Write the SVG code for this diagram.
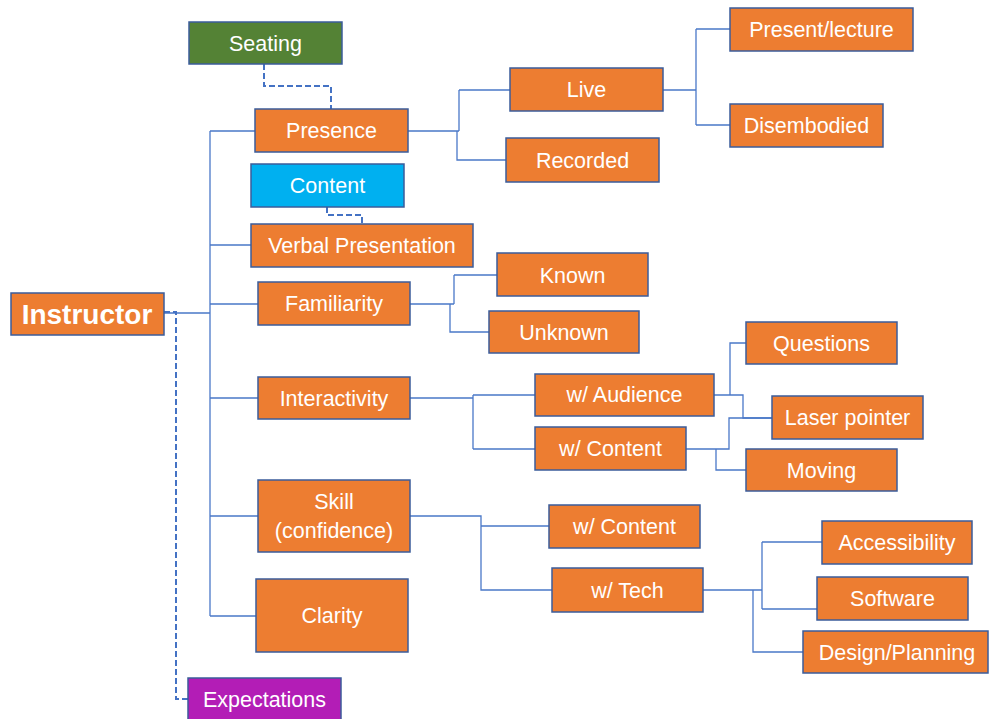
<svg xmlns="http://www.w3.org/2000/svg" width="989" height="719" viewBox="0 0 989 719">
  <style>
    .box { stroke: #3B5C9A; stroke-width: 1.5; }
    .orange { fill: #ED7D31; }
    .green { fill: #548235; }
    .cyan { fill: #00B0F0; }
    .purple { fill: #B31DB6; }
    text { font-family: "Liberation Sans", Arial, sans-serif; font-size: 21.5px; fill: #FFFFFF; text-anchor: middle; }
    .title { font-size: 28px; font-weight: bold; }
    .link { fill: none; stroke: #4A78C8; stroke-width: 1.3; }
    .assoc { fill: none; stroke: #4472C4; stroke-width: 2; stroke-dasharray: 6 3; }
  </style>
  <rect width="989" height="719" fill="#FFFFFF"/>

  <!-- tree connectors -->
  <g id="connectors">
    <path class="link" d="M164,313 H210 M210,131 V616 M210,131 H255 M210,245 H251 M210,304 H258 M210,398 H258 M210,516 H258 M210,616 H256"/>
    <path class="link" d="M408,131 H459 M459,90 V131 M459,90 H510 M457,131 V160 H506"/>
    <path class="link" d="M663,90 H696 M696,29 V125 M696,29 H730 M696,125 H730"/>
    <path class="link" d="M410,304 H454 M454,275 V304 M454,275 H497 M450,304 V332 H489"/>
    <path class="link" d="M410,398 H473 M473,395 V449 M473,395 H535 M473,449 H535"/>
    <path class="link" d="M714,395 H730 V343 H746 M730,395 H743 V418 H772"/>
    <path class="link" d="M686,449 H729 V418 H772 M716,449 V470 H746"/>
    <path class="link" d="M410,516 H481 V526 H549 M481,516 V590 H552"/>
    <path class="link" d="M703,590 H762 M762,542 V609 M762,542 H822 M762,609 H817 M753,590 V652 H803"/>
    <!-- dashed associations -->
    <path class="assoc" d="M264,64 V86 H331 V109"/>
    <path class="assoc" d="M327,207 V215 H362 V224"/>
    <path class="assoc" d="M164,312 H176 V699 H188"/>
  </g>

  <g id="instructor"><rect class="box orange" x="11" y="293" width="153" height="42"/><text class="title" x="87" y="324">Instructor</text></g>
  <g id="seating"><rect class="box green" x="189" y="22" width="153" height="42"/><text x="265.5" y="50.5">Seating</text></g>
  <g id="presence"><rect class="box orange" x="255" y="109" width="153" height="43"/><text x="331.5" y="138">Presence</text></g>
  <g id="content"><rect class="box cyan" x="251" y="164" width="153" height="43"/><text x="327.5" y="193">Content</text></g>
  <g id="verbal-presentation"><rect class="box orange" x="251" y="224" width="222" height="43"/><text x="362" y="253">Verbal Presentation</text></g>
  <g id="live"><rect class="box orange" x="510" y="68" width="153" height="43"/><text x="586.5" y="97">Live</text></g>
  <g id="recorded"><rect class="box orange" x="506" y="138" width="153" height="44"/><text x="582.5" y="167.5">Recorded</text></g>
  <g id="present-lecture"><rect class="box orange" x="730" y="8" width="183" height="43"/><text x="821.5" y="37">Present/lecture</text></g>
  <g id="disembodied"><rect class="box orange" x="730" y="104" width="153" height="43"/><text x="806.5" y="133">Disembodied</text></g>
  <g id="familiarity"><rect class="box orange" x="258" y="282" width="152" height="43"/><text x="334" y="311">Familiarity</text></g>
  <g id="known"><rect class="box orange" x="497" y="253" width="151" height="43"/><text x="572.5" y="282.5">Known</text></g>
  <g id="unknown"><rect class="box orange" x="489" y="311" width="150" height="42"/><text x="564" y="339.5">Unknown</text></g>
  <g id="interactivity"><rect class="box orange" x="258" y="377" width="152" height="42"/><text x="334" y="405.5">Interactivity</text></g>
  <g id="with-audience"><rect class="box orange" x="535" y="374" width="179" height="42"/><text x="624.5" y="402">w/ Audience</text></g>
  <g id="with-content-interaction"><rect class="box orange" x="535" y="427" width="151" height="43"/><text x="610.5" y="456">w/ Content</text></g>
  <g id="questions"><rect class="box orange" x="746" y="322" width="151" height="42"/><text x="821.5" y="350.5">Questions</text></g>
  <g id="laser-pointer"><rect class="box orange" x="772" y="396" width="151" height="43"/><text x="847.5" y="425">Laser pointer</text></g>
  <g id="moving"><rect class="box orange" x="746" y="449" width="151" height="42"/><text x="821.5" y="478">Moving</text></g>
  <g id="skill"><rect class="box orange" x="258" y="480" width="152" height="72"/><text x="334" y="509">Skill</text><text x="334" y="538">(confidence)</text></g>
  <g id="clarity"><rect class="box orange" x="256" y="579" width="152" height="73"/><text x="332" y="623">Clarity</text></g>
  <g id="with-content-skill"><rect class="box orange" x="549" y="505" width="151" height="43"/><text x="624.5" y="534">w/ Content</text></g>
  <g id="with-tech"><rect class="box orange" x="552" y="568" width="151" height="44"/><text x="627.5" y="597.5">w/ Tech</text></g>
  <g id="accessibility"><rect class="box orange" x="822" y="521" width="150" height="43"/><text x="897" y="550">Accessibility</text></g>
  <g id="software"><rect class="box orange" x="817" y="577" width="151" height="43"/><text x="892.5" y="606">Software</text></g>
  <g id="design-planning"><rect class="box orange" x="803" y="631" width="185" height="42"/><text x="897" y="659.5">Design/Planning</text></g>
  <g id="expectations"><rect class="box purple" x="188" y="678" width="153" height="43"/><text x="264.5" y="707">Expectations</text></g>
</svg>
